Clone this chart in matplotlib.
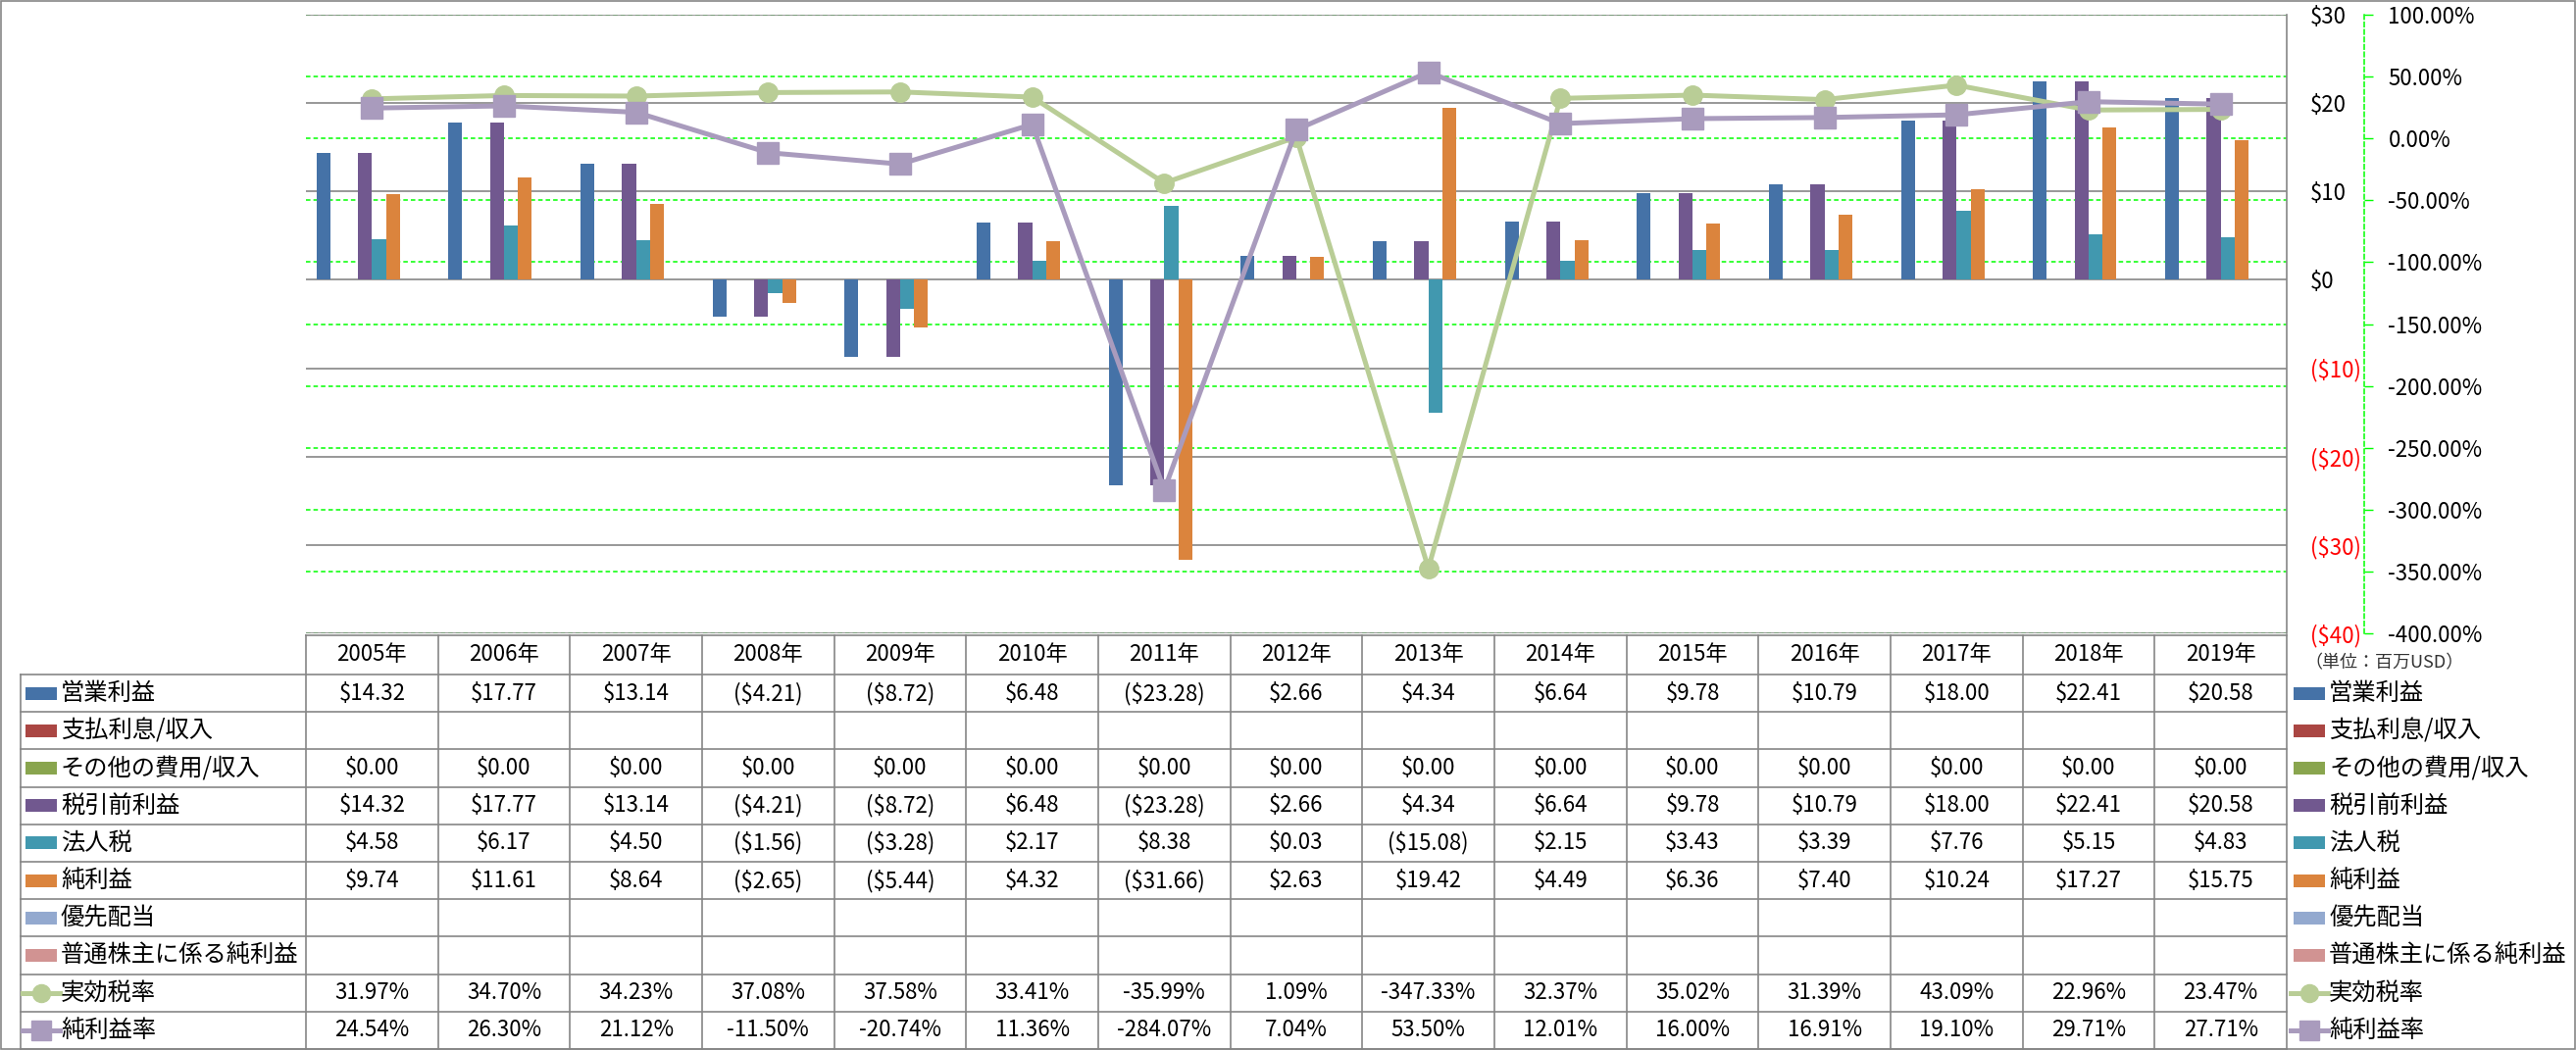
import numpy as np
import matplotlib
matplotlib.use('Agg')
import matplotlib.pyplot as plt
from matplotlib.patches import Rectangle
from matplotlib.lines import Line2D

plt.rcParams['font.family'] = ['Noto Sans CJK JP', 'DejaVu Sans']

# data (単位: 百万USD)
years = ['2005年', '2006年', '2007年', '2008年', '2009年', '2010年', '2011年', '2012年',
         '2013年', '2014年', '2015年', '2016年', '2017年', '2018年', '2019年']
op_income = [14.32, 17.77, 13.14, -4.21, -8.72, 6.48, -23.28, 2.66, 4.34, 6.64, 9.78, 10.79, 18.00, 22.41, 20.58]
interest = [None] * 15
other = [0.0] * 15
pretax = [14.32, 17.77, 13.14, -4.21, -8.72, 6.48, -23.28, 2.66, 4.34, 6.64, 9.78, 10.79, 18.00, 22.41, 20.58]
tax = [4.58, 6.17, 4.50, -1.56, -3.28, 2.17, 8.38, 0.03, -15.08, 2.15, 3.43, 3.39, 7.76, 5.15, 4.83]
net = [9.74, 11.61, 8.64, -2.65, -5.44, 4.32, -31.66, 2.63, 19.42, 4.49, 6.36, 7.40, 10.24, 17.27, 15.75]
pref = [None] * 15
common = [None] * 15
eff_tax = [31.97, 34.70, 34.23, 37.08, 37.58, 33.41, -35.99, 1.09, -347.33, 32.37, 35.02, 31.39, 43.09, 22.96, 23.47]
margin = [24.54, 26.30, 21.12, -11.50, -20.74, 11.36, -284.07, 7.04, 53.50, 12.01, 16.00, 16.91, 19.10, 29.71, 27.71]

bar_names = ['営業利益', '支払利息/収入', 'その他の費用/収入', '税引前利益', '法人税', '純利益', '優先配当', '普通株主に係る純利益']
bar_data = [op_income, interest, other, pretax, tax, net, pref, common]
bar_colors = ['#4572A7', '#AA4643', '#89A54E', '#71588F', '#4198AF', '#DB843D', '#93A9CF', '#D19392']
line_names = ['実効税率', '純利益率']
line_data = [eff_tax, margin]
line_colors = ['#B9CD96', '#A99BBD']
line_markers = ['o', 's']

usd_ticks = [-40, -30, -20, -10, 0, 10, 20, 30]
pct_ticks = [-400, -350, -300, -250, -200, -150, -100, -50, 0, 50, 100]

W, H = 2627, 1071
FS = 16
FS_NAME = 17.5
GRAY = '#868686'
GREEN = '#00FF00'


def fmt_usd(v):
    if v is None:
        return ''
    return f'(${-v:.2f})' if v < 0 else f'${v:.2f}'


def fmt_pct(v):
    return f'{v:.2f}%'


fig = plt.figure(figsize=(W / 100, H / 100), dpi=100)

# plot area in pixels
px_l, px_r, px_t, px_b = 312, 2332, 15, 646
ax = fig.add_axes([px_l / W, 1 - px_b / H, (px_r - px_l) / W, (px_b - px_t) / H])
ax2 = ax.twinx()

n = len(years)
x = np.arange(n) + 0.5
bw = 0.1054
for k, (vals, col) in enumerate(zip(bar_data, bar_colors)):
    v = np.array([np.nan if a is None else a for a in vals], dtype=float)
    ax.bar(x + (k - 3.5) * bw, v, width=bw, color=col, linewidth=0, zorder=3)

ax.set_xlim(0, n)
ax.set_ylim(-40, 30)
ax.set_xticks([])
ax.set_yticks(usd_ticks)
ax.set_yticklabels([('($%d)' % -t) if t < 0 else ('$%d' % t) for t in usd_ticks])
ax.yaxis.tick_right()
ax.tick_params(axis='y', length=0, pad=17, labelsize=FS)
for t, lab in zip(usd_ticks, ax.get_yticklabels()):
    lab.set_color('red' if t < 0 else 'black')
ax.grid(axis='y', color=GRAY, linewidth=1.2)
ax.set_axisbelow(True)
for s in ['left', 'top', 'bottom']:
    ax.spines[s].set_visible(False)
ax.spines['right'].set_color(GRAY)
ax.spines['right'].set_linewidth(1.2)

# green dashed gridlines for the % axis, drawn behind the gray grid and bars
for p in pct_ticks:
    f = (p - pct_ticks[0]) / (pct_ticks[-1] - pct_ticks[0])
    ax.plot([0, 1], [f, f], transform=ax.transAxes, color=GREEN, linestyle=(0, (3, 2)),
            linewidth=1.1, zorder=0.3)

for vals, col, mk in zip(line_data, line_colors, line_markers):
    ms = 14 if mk == 'o' else 16
    ax2.plot(x, vals, color=col, linewidth=3.6, marker=mk, markersize=ms,
             markerfacecolor=col, markeredgecolor=col, zorder=5, clip_on=False)

ax2.set_ylim(-400, 100)
ax2.set_yticks(pct_ticks)
ax2.set_yticklabels([fmt_pct(p) for p in pct_ticks])
for p, lab in zip(pct_ticks, ax2.get_yticklabels()):
    lab.set_color('red' if p < 0 else 'black')
ax2.tick_params(axis='y', direction='out', length=6.5, width=1, color=GREEN, pad=11, labelsize=FS)
for s in ['left', 'top', 'bottom']:
    ax2.spines[s].set_visible(False)
ax2.spines['right'].set_position(('outward', 57))
ax2.spines['right'].set_color(GREEN)
ax2.spines['right'].set_linestyle((0, (3, 2)))
ax2.spines['right'].set_linewidth(1.1)

# data table + legends, in figure pixels
tab = fig.add_axes([0, 0, 1, 1])
tab.set_xlim(0, W)
tab.set_ylim(H, 0)
tab.axis('off')

cw = (px_r - px_l) / n
hdr_t, hdr_b = 648, 688
rh = 38.2
row_names = bar_names + line_names
row_vals = [[fmt_usd(v) for v in d] for d in bar_data] + [[fmt_pct(v) for v in d] for d in line_data]
tab_l = 21
tab_b = hdr_b + rh * len(row_names)

lk = dict(color=GRAY, linewidth=1.2)
tab.plot([px_l, px_r], [hdr_t, hdr_t], **lk)
for r in range(len(row_names) + 1):
    yy = hdr_b + r * rh
    tab.plot([tab_l, px_r], [yy, yy], **lk)
for c in range(n + 1):
    xx = px_l + c * cw
    tab.plot([xx, xx], [hdr_t, tab_b], **lk)
tab.plot([tab_l, tab_l], [hdr_b, tab_b], **lk)

for c, yr in enumerate(years):
    tab.text(px_l + (c + 0.5) * cw, (hdr_t + hdr_b) / 2, yr, ha='center', va='center', fontsize=FS)


def legend_key(x0, yc, r):
    if r < len(bar_names):
        tab.add_patch(Rectangle((x0, yc - 6.5), 32, 13, color=bar_colors[r], linewidth=0))
    else:
        i = r - len(bar_names)
        tab.add_line(Line2D([x0 - 3, x0 + 35], [yc, yc], color=line_colors[i], linewidth=3.6, zorder=3))
        tab.plot([x0 + 16], [yc], marker=line_markers[i], markersize=13 if i == 0 else 14,
                 color=line_colors[i], zorder=4)


for r, (name, vals) in enumerate(zip(row_names, row_vals)):
    yc = hdr_b + (r + 0.5) * rh
    legend_key(26, yc, r)
    tab.text(62, yc, name, ha='left', va='center', fontsize=FS_NAME)
    for c, s in enumerate(vals):
        tab.text(px_l + (c + 0.5) * cw, yc, s, ha='center', va='center', fontsize=FS)
    # legend on the right
    legend_key(2339, yc, r)
    tab.text(2375, yc, name, ha='left', va='center', fontsize=FS_NAME)

tab.text(2350, 676, '（単位：百万USD）', ha='left', va='center', fontsize=13, color='#333333')

tab.add_patch(Rectangle((1, 1), W - 2.5, H - 2.5, fill=False, edgecolor=GRAY, linewidth=1.2))

fig.savefig('out.png', dpi=100, facecolor='white')
